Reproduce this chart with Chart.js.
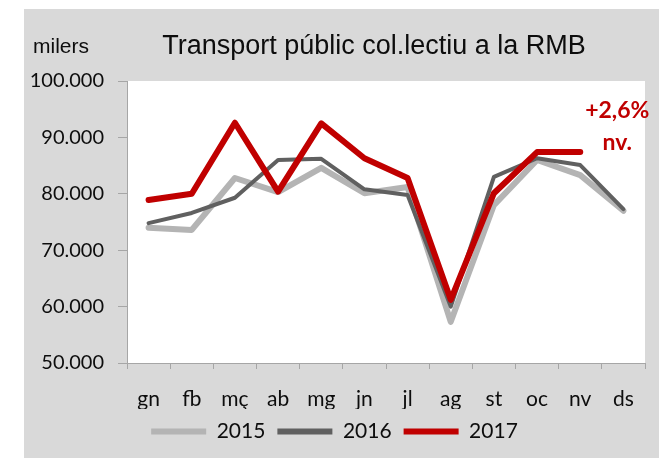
<!DOCTYPE html>
<html>
<head>
<meta charset="utf-8">
<script src="https://cdn.jsdelivr.net/npm/chart.js@4.4.1/dist/chart.umd.min.js"></script>
<style>
  html, body { margin: 0; padding: 0; background: #fff; }
  #wrap { width: 659px; height: 458px; position: relative; }
</style>
</head>
<body>
<div id="wrap"><canvas id="chart" width="659" height="458"></canvas></div>
<script>
// months (catalan abbreviations)
const months = ['gn', 'fb', 'mç', 'ab', 'mg', 'jn', 'jl', 'ag', 'st', 'oc', 'nv', 'ds'];

// thousands of passengers
const values2015 = [74000, 73600, 82800, 80300, 84600, 80100, 81200, 57300, 78000, 86000, 83300, 77000];
const values2016 = [74800, 76600, 79300, 86000, 86200, 80800, 79800, 60000, 83000, 86300, 85100, 77300];
const values2017 = [78900, 80000, 92600, 80400, 92500, 86300, 82800, 61200, 80100, 87400, 87400, null];

const yTicks = [50000, 60000, 70000, 80000, 90000, 100000];

const titleText = 'Transport públic col.lectiu a la RMB';
const unitText = 'milers';
const noteLines = ['+2,6%', 'nv.'];

const labelFont = 'Lato, "Open Sans", sans-serif';
const axisColor = '#A6A6A6';

function fmt(v) {
  return String(v).replace(/\B(?=(\d{3})+(?!\d))/g, '.');
}

const decor = {
  id: 'decor',
  beforeDraw(chart) {
    const { ctx, chartArea: a } = chart;
    ctx.save();
    ctx.fillStyle = '#D9D9D9';
    ctx.fillRect(24, 9, chart.width - 24, chart.height - 9);
    ctx.fillStyle = '#FFFFFF';
    ctx.fillRect(a.left, a.top, a.right - a.left, a.bottom - a.top);
    ctx.restore();
  },
  afterDraw(chart) {
    const { ctx } = chart;
    const x = chart.scales.x, y = chart.scales.y;
    ctx.save();
    ctx.fillStyle = '#0D0D0D';
    ctx.textBaseline = 'alphabetic';
    ctx.font = '27px "Liberation Sans", Arial, sans-serif';
    ctx.textAlign = 'center';
    ctx.fillText(titleText, 374, 54);
    ctx.font = '21px "Liberation Sans", Arial, sans-serif';
    ctx.textAlign = 'left';
    ctx.fillText(unitText, 33, 53);

    // note next to the last 2017 value
    const nx = x.getPixelForValue(10) + 37;
    ctx.fillStyle = '#C00000';
    ctx.font = 'bold 23px ' + labelFont;
    ctx.textAlign = 'center';
    ctx.textBaseline = 'middle';
    ctx.fillText(noteLines[0], nx, y.getPixelForValue(94700));
    ctx.fillText(noteLines[1], nx, y.getPixelForValue(89000));
    ctx.restore();
  }
};

new Chart(document.getElementById('chart'), {
  type: 'line',
  data: {
    labels: months,
    datasets: [
      { label: '2015', data: values2015, borderColor: '#B4B4B4', backgroundColor: '#B4B4B4', borderWidth: 6, order: 2 },
      { label: '2016', data: values2016, borderColor: '#606060', backgroundColor: '#606060', borderWidth: 4, order: 1 },
      { label: '2017', data: values2017, borderColor: '#C00000', backgroundColor: '#C00000', borderWidth: 6, order: 0 }
    ]
  },
  options: {
    responsive: false,
    animation: false,
    layout: { padding: { left: 24, right: 14, top: 81, bottom: 6 } },
    elements: {
      line: { tension: 0, borderCapStyle: 'round', borderJoinStyle: 'round', fill: false },
      point: { radius: 0, hoverRadius: 0 }
    },
    plugins: {
      title: { display: false },
      tooltip: { enabled: false },
      legend: {
        position: 'bottom',
        labels: {
          color: '#0D0D0D',
          font: { family: labelFont, size: 21 },
          boxWidth: 55,
          boxHeight: 6,
          useBorderRadius: true,
          borderRadius: 3,
          padding: 12,
          generateLabels(chart) {
            return chart.data.datasets.map((ds, i) => ({
              text: ds.label,
              fillStyle: ds.borderColor,
              strokeStyle: ds.borderColor,
              lineWidth: 0,
              fontColor: '#0D0D0D',
              datasetIndex: i
            }));
          }
        }
      }
    },
    scales: {
      x: {
        offset: true,
        grid: { offset: true, drawOnChartArea: false, drawTicks: true, tickLength: 6, color: axisColor },
        border: { display: true, color: axisColor, width: 1 },
        ticks: { color: '#0D0D0D', font: { family: labelFont, size: 21 }, padding: 18, maxRotation: 0, autoSkip: false },
        afterFit(scale) {
          const lg = scale.chart.legend ? scale.chart.legend.height : 40;
          scale.height = 458 - 363 - 6 - lg;
        }
      },
      y: {
        min: yTicks[0],
        max: yTicks[yTicks.length - 1],
        grid: { drawOnChartArea: false, drawTicks: true, tickLength: 9, color: axisColor },
        border: { display: true, color: axisColor, width: 1 },
        ticks: {
          stepSize: 10000,
          color: '#0D0D0D',
          font: { family: labelFont, size: 20 },
          padding: 14,
          callback: v => fmt(v)
        },
        afterBuildTicks(scale) {
          scale.ticks = yTicks.map(v => ({ value: v }));
        },
        afterFit(scale) {
          scale.width = 103;
        }
      }
    }
  },
  plugins: [decor]
});
</script>
</body>
</html>
